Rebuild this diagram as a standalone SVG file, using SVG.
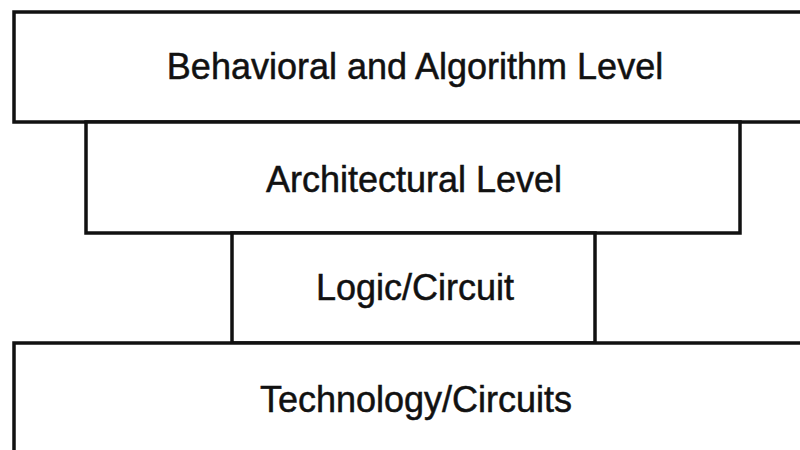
<svg xmlns="http://www.w3.org/2000/svg" width="800" height="450" viewBox="0 0 800 450">
<style>
.box{fill:#fff;stroke:#111;stroke-width:3.5}
.lbl{font-family:"Liberation Sans",Arial,sans-serif;font-size:36px;fill:#111;stroke:#111;stroke-width:0.5;text-anchor:middle}
</style>
<rect width="800" height="450" fill="#fff"/>
<g id="behavioral">
<rect class="box" x="14" y="12" width="800" height="110"/>
<text class="lbl" x="415" y="79">Behavioral and Algorithm Level</text>
</g>
<g id="architectural">
<rect class="box" x="86" y="122" width="654" height="111"/>
<text class="lbl" x="414" y="192">Architectural Level</text>
</g>
<g id="logic">
<rect class="box" x="232" y="233" width="363" height="110"/>
<text class="lbl" x="415" y="300">Logic/Circuit</text>
</g>
<g id="technology">
<rect class="box" x="14" y="343" width="800" height="120"/>
<text class="lbl" x="416" y="412">Technology/Circuits</text>
</g>
<g id="connectors"></g>
</svg>
